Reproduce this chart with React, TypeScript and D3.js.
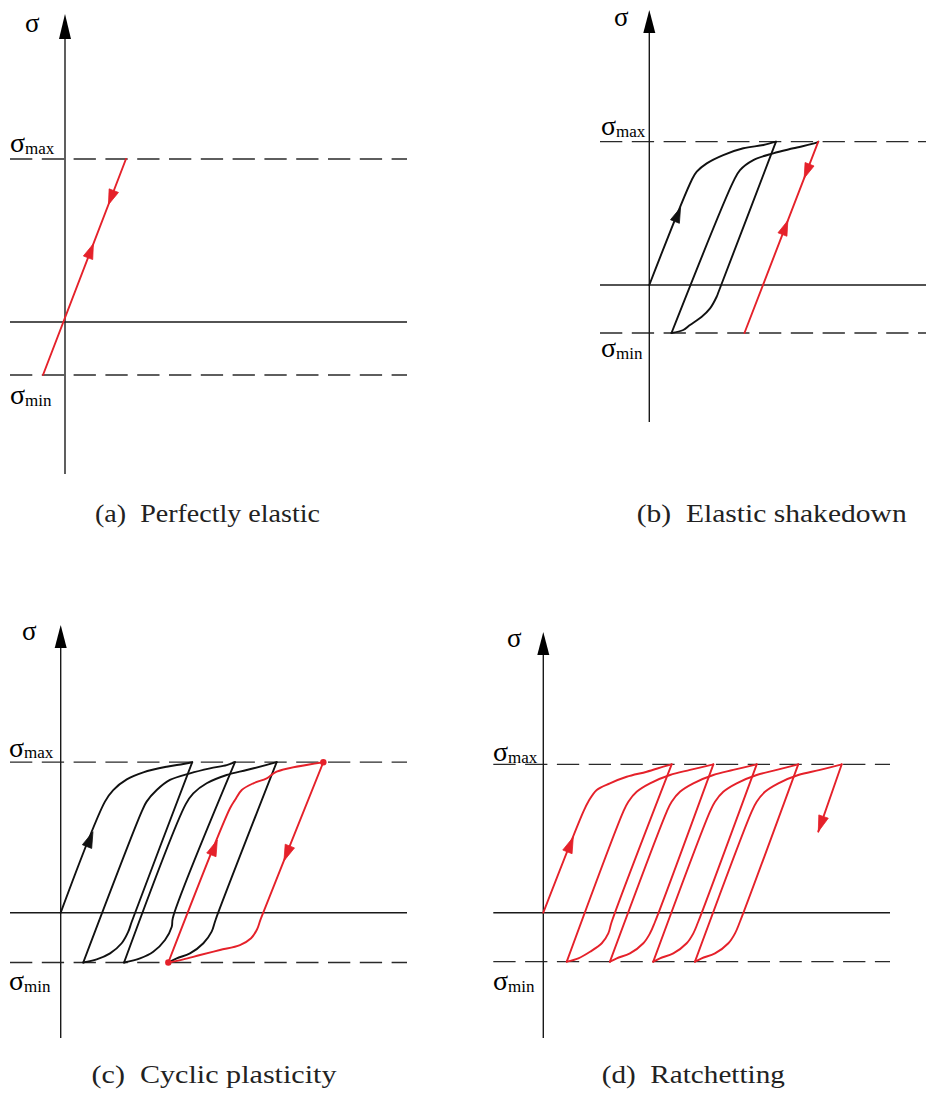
import React from 'react';
import * as d3 from 'd3';

type Pt = [number, number];

// Stress is normalised so that sigma_max = 1; strain uses the same unit (sigma_max / E).

// (a) Perfectly elastic
const A_SIGMA_MIN = -0.325;
const A_RED: Pt[] = [[-0.135, -0.325], [0.374, 1]];

// (b) Elastic shakedown
const B_SIGMA_MIN = -0.335;
const B_BLACK: Pt[] = [
  [0, 0], [0.296, 0.733], [0.331, 0.791], [0.401, 0.849], [0.516, 0.907], [0.656, 0.954], [0.796, 0.977], [0.884, 1],
  [0.483, -0.049], [0.47, -0.082], [0.424, -0.163], [0.366, -0.221], [0.284, -0.279], [0.237, -0.314], [0.155, -0.335],
  [0.586, 0.721], [0.633, 0.802], [0.726, 0.872], [0.865, 0.919], [1.005, 0.954], [1.168, 0.993], [1.179, 1],
];
const B_RED: Pt[] = [[1.179, 1], [0.664, -0.335]];

// (c) Cyclic plasticity
const C_SIGMA_MIN = -0.331;
const C_BLACK: Pt[] = [
  [0, 0], [0.294, 0.738], [0.349, 0.815], [0.439, 0.886], [0.549, 0.933], [0.704, 0.97], [0.815, 0.988], [0.874, 1],
  [0.472, -0.06], [0.449, -0.126], [0.405, -0.203], [0.328, -0.27], [0.239, -0.31], [0.15, -0.331],
  [0.538, 0.671], [0.571, 0.738], [0.638, 0.815], [0.726, 0.882], [0.859, 0.926], [0.992, 0.959], [1.103, 0.981], [1.158, 1],
  [0.745, -0.035], [0.738, -0.093], [0.693, -0.181], [0.615, -0.259], [0.527, -0.303], [0.421, -0.331],
  [0.83, 0.72], [0.881, 0.793], [0.97, 0.86], [1.103, 0.915], [1.236, 0.948], [1.369, 0.982], [1.435, 1],
  [1.03, -0.045], [1.003, -0.126], [0.948, -0.203], [0.859, -0.27], [0.771, -0.303], [0.715, -0.331],
];
const C_RED: Pt[] = [
  [0.715, -0.331], [1.125, 0.694], [1.158, 0.749], [1.203, 0.815], [1.28, 0.86], [1.369, 0.893], [1.435, 0.937], [1.745, 1],
  [1.33, -0.04], [1.305, -0.11], [1.265, -0.17], [1.191, -0.215], [1.058, -0.248], [0.926, -0.281], [0.815, -0.31], [0.715, -0.331],
];
const C_DOTS: Pt[] = [[1.745, 1], [0.715, -0.331]];

// (d) Ratchetting
const D_SIGMA_MIN = -0.33;
const D_RED: Pt[] = [
  [0, 0], [0.27, 0.681], [0.303, 0.748], [0.36, 0.827], [0.449, 0.872], [0.562, 0.916], [0.697, 0.95], [0.809, 0.984], [0.865, 1],
  [0.461, -0.061], [0.438, -0.139], [0.394, -0.206], [0.315, -0.263], [0.236, -0.307], [0.158, -0.33],
  [0.539, 0.681], [0.573, 0.748], [0.629, 0.815], [0.719, 0.872], [0.854, 0.928], [0.989, 0.962], [1.146, 1],
  [0.753, -0.061], [0.719, -0.139], [0.674, -0.206], [0.584, -0.274], [0.495, -0.307], [0.449, -0.33],
  [0.832, 0.681], [0.865, 0.748], [0.921, 0.815], [1.011, 0.872], [1.146, 0.928], [1.28, 0.962], [1.438, 1],
  [1.044, -0.061], [1.011, -0.139], [0.966, -0.206], [0.876, -0.274], [0.786, -0.307], [0.741, -0.33],
  [1.123, 0.681], [1.157, 0.748], [1.213, 0.815], [1.303, 0.872], [1.438, 0.928], [1.573, 0.962], [1.718, 1],
  [1.325, -0.061], [1.292, -0.139], [1.247, -0.206], [1.157, -0.274], [1.067, -0.307], [1.022, -0.33],
  [1.404, 0.681], [1.438, 0.748], [1.494, 0.815], [1.584, 0.872], [1.718, 0.928], [1.865, 0.962], [2.011, 1],
  [1.853, 0.546],
];

const CAPTIONS = ['(a)\u00A0\u00A0Perfectly elastic', '(b)\u00A0\u00A0Elastic shakedown', '(c)\u00A0\u00A0Cyclic plasticity', '(d)\u00A0\u00A0Ratchetting'];

const RED = '#e5212a';
const INK = '#111111';
const AXIS = '#1a1a1a';
const SERIF = "'Liberation Serif', 'Times New Roman', serif";

// Arrow heads sit on a straight branch (from -> to), tip at stress level `at`.
interface Arrow { from: Pt; to: Pt; at: number; color: string }

interface Curve { pts: Pt[]; color: string }

interface Layout {
  axisX: number; zeroY: number; unit: number;
  axisTop: number; arrowBase: number; axisBottom: number;
  hx0: number; hx1: number;
  sigma: [number, number]; maxLbl: [number, number]; minLbl: [number, number];
  cap: { x: number; y: number; w: number };
}

interface PanelProps {
  layout: Layout; sigmaMin: number; curves: Curve[]; arrows: Arrow[]; dots?: Pt[]; caption: string; headLen: number; headHalf: number;
}

// Split a load path into loading / unloading branches at its reversal points.
function branches(pts: Pt[]): Pt[][] {
  const out: Pt[][] = [];
  let cur: Pt[] = [pts[0]];
  for (let i = 1; i < pts.length; i++) {
    cur.push(pts[i]);
    if (i < pts.length - 1) {
      const a = pts[i][1] - pts[i - 1][1];
      const b = pts[i + 1][1] - pts[i][1];
      if (a * b < 0) {
        out.push(cur);
        cur = [pts[i]];
      }
    }
  }
  out.push(cur);
  return out;
}

function Panel({ layout, sigmaMin, curves, arrows, dots = [], caption, headLen, headHalf }: PanelProps) {
  const L = layout;
  const x = d3.scaleLinear().domain([0, 1]).range([L.axisX, L.axisX + L.unit]);
  const y = d3.scaleLinear().domain([0, 1]).range([L.zeroY, L.zeroY - L.unit]);
  const line = d3.line<Pt>().x((d) => x(d[0])).y((d) => y(d[1])).curve(d3.curveCatmullRom.alpha(0.5));

  const heads = arrows.map((a, i) => {
    const t = (a.at - a.from[1]) / (a.to[1] - a.from[1]);
    const tx = x(a.from[0] + t * (a.to[0] - a.from[0]));
    const ty = y(a.at);
    const dx = x(a.to[0]) - x(a.from[0]);
    const dy = y(a.to[1]) - y(a.from[1]);
    const len = Math.hypot(dx, dy);
    const ux = dx / len, uy = dy / len;
    const nx = -uy, ny = ux;
    const bx = tx - ux * headLen, by = ty - uy * headLen;
    const d = `M${tx},${ty}L${bx + nx * headHalf},${by + ny * headHalf}L${bx - nx * headHalf},${by - ny * headHalf}Z`;
    return <path key={i} d={d} fill={a.color} stroke={a.color} strokeWidth={0.8} strokeLinejoin="miter" />;
  });

  const ax = x(0);
  return (
    <g>
      {/* reference levels */}
      <line x1={L.hx0} x2={L.hx1} y1={y(1)} y2={y(1)} stroke="#2a2a2a" strokeWidth={1.3} strokeDasharray="22.3 9.5" />
      <line x1={L.hx0} x2={L.hx1} y1={y(sigmaMin)} y2={y(sigmaMin)} stroke="#2a2a2a" strokeWidth={1.3} strokeDasharray="22.3 9.5" />
      <line x1={L.hx0} x2={L.hx1} y1={y(0)} y2={y(0)} stroke={AXIS} strokeWidth={1.4} />
      {/* stress axis */}
      <line x1={ax} x2={ax} y1={L.arrowBase} y2={L.axisBottom} stroke={AXIS} strokeWidth={1.4} />
      <path d={`M${ax},${L.axisTop}L${ax - 6},${L.arrowBase}L${ax + 6},${L.arrowBase}Z`} fill="#000" />
      {/* labels */}
      <text x={L.sigma[0]} y={L.sigma[1]} fontFamily={SERIF} fontSize={27} fill="#000">σ</text>
      <text x={L.maxLbl[0]} y={L.maxLbl[1]} fontFamily={SERIF} fontSize={28} fill="#000">
        σ<tspan fontSize={17} dy={1.5}>max</tspan>
      </text>
      <text x={L.minLbl[0]} y={L.minLbl[1]} fontFamily={SERIF} fontSize={28} fill="#000">
        σ<tspan fontSize={17} dy={1.5}>min</tspan>
      </text>
      {/* stress-strain paths */}
      {curves.map((c, i) =>
        branches(c.pts).map((b, j) => (
          <path key={`${i}-${j}`} d={line(b) || ''} fill="none" stroke={c.color} strokeWidth={1.9}
            strokeLinejoin="round" strokeLinecap="round" />
        ))
      )}
      {heads}
      {dots.map((p, i) => (
        <circle key={i} cx={x(p[0])} cy={y(p[1])} r={3.2} fill={RED} />
      ))}
      <text x={L.cap.x} y={L.cap.y} textAnchor="middle" fontFamily={SERIF} fontSize={25} fill="#222"
        textLength={L.cap.w} lengthAdjust="spacingAndGlyphs">{caption}</text>
    </g>
  );
}

const LAYOUT_A: Layout = {
  axisX: 65, zeroY: 322, unit: 163, axisTop: 14, arrowBase: 39, axisBottom: 474, hx0: 10, hx1: 407,
  sigma: [25, 32], maxLbl: [10, 152], minLbl: [10, 404], cap: { x: 207.5, y: 521.5, w: 225 },
};
const LAYOUT_B: Layout = {
  axisX: 649.3, zeroY: 285, unit: 143.3, axisTop: 10, arrowBase: 33, axisBottom: 422, hx0: 600, hx1: 926,
  sigma: [614, 26], maxLbl: [601, 135], minLbl: [601, 357], cap: { x: 771.7, y: 521.5, w: 270 },
};
const LAYOUT_C: Layout = {
  axisX: 60.7, zeroY: 912.7, unit: 150.5, axisTop: 625, arrowBase: 648, axisBottom: 1038, hx0: 10, hx1: 407,
  sigma: [22, 640], maxLbl: [9, 756.5], minLbl: [9, 990], cap: { x: 214, y: 1083, w: 245 },
};
const LAYOUT_D: Layout = {
  axisX: 543.3, zeroY: 912.7, unit: 148.4, axisTop: 632, arrowBase: 655, axisBottom: 1038, hx0: 493.3, hx1: 890,
  sigma: [507, 646.5], maxLbl: [493, 761], minLbl: [493, 990], cap: { x: 693.3, y: 1083, w: 183 },
};

export default function App() {
  return (
    <svg width={926} height={1093} viewBox="0 0 926 1093"
      style={{ position: 'absolute', left: 0, top: 0, background: '#fff' }}>
      <Panel layout={LAYOUT_A} sigmaMin={A_SIGMA_MIN} caption={CAPTIONS[0]} headLen={15} headHalf={5}
        curves={[{ pts: A_RED, color: RED }]}
        arrows={[
          { from: A_RED[0], to: A_RED[1], at: 0.48, color: RED },
          { from: A_RED[1], to: A_RED[0], at: 0.72, color: RED },
        ]} />
      <Panel layout={LAYOUT_B} sigmaMin={B_SIGMA_MIN} caption={CAPTIONS[1]} headLen={15} headHalf={4.8}
        curves={[{ pts: B_BLACK, color: INK }, { pts: B_RED, color: RED }]}
        arrows={[
          { from: B_BLACK[0], to: B_BLACK[1], at: 0.54, color: INK },
          { from: B_RED[0], to: B_RED[1], at: 0.745, color: RED },
          { from: B_RED[1], to: B_RED[0], at: 0.45, color: RED },
        ]} />
      <Panel layout={LAYOUT_C} sigmaMin={C_SIGMA_MIN} caption={CAPTIONS[2]} headLen={16} headHalf={5}
        curves={[{ pts: C_BLACK, color: INK }, { pts: C_RED, color: RED }]}
        dots={C_DOTS}
        arrows={[
          { from: C_BLACK[0], to: C_BLACK[1], at: 0.538, color: INK },
          { from: C_RED[0], to: C_RED[1], at: 0.483, color: RED },
          { from: C_RED[7], to: C_RED[8], at: 0.344, color: RED },
        ]} />
      <Panel layout={LAYOUT_D} sigmaMin={D_SIGMA_MIN} caption={CAPTIONS[3]} headLen={16} headHalf={5}
        curves={[{ pts: D_RED, color: RED }]}
        arrows={[
          { from: D_RED[0], to: D_RED[1], at: 0.51, color: RED },
          { from: D_RED[D_RED.length - 2], to: D_RED[D_RED.length - 1], at: 0.546, color: RED },
        ]} />
    </svg>
  );
}
